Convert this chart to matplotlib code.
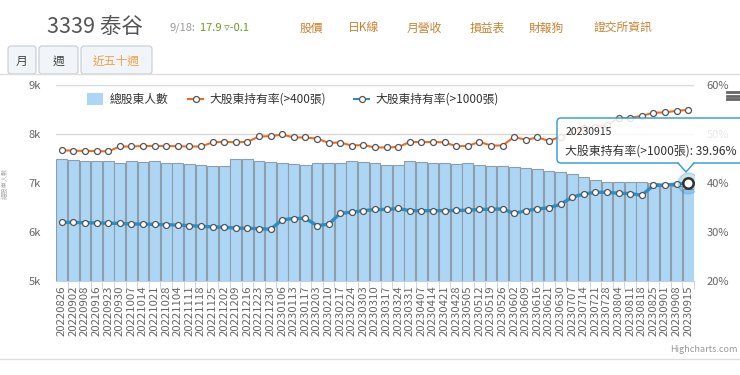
import matplotlib
matplotlib.use("Agg")
import matplotlib.pyplot as plt
from matplotlib.patches import FancyBboxPatch, Rectangle, Polygon
from matplotlib.lines import Line2D
from matplotlib.transforms import IdentityTransform

plt.rcParams['font.family'] = ['Noto Sans CJK TC', 'DejaVu Sans']

# ---- data ----
dates = ['20220826', '20220902', '20220908', '20220916', '20220923', '20220930',
         '20221007', '20221014', '20221021', '20221028', '20221104', '20221111',
         '20221118', '20221125', '20221202', '20221209', '20221216', '20221223',
         '20221230', '20230106', '20230113', '20230117', '20230203', '20230210',
         '20230217', '20230224', '20230303', '20230310', '20230317', '20230324',
         '20230331', '20230407', '20230414', '20230421', '20230428', '20230505',
         '20230512', '20230519', '20230526', '20230602', '20230609', '20230616',
         '20230621', '20230630', '20230707', '20230714', '20230721', '20230728',
         '20230804', '20230811', '20230818', '20230825', '20230901', '20230908',
         '20230915']

holders = [7484, 7470, 7450, 7442, 7442, 7408, 7442, 7429, 7442, 7408,
           7400, 7388, 7367, 7347, 7340, 7484, 7484, 7442, 7429, 7408,
           7388, 7367, 7408, 7408, 7408, 7449, 7435, 7401, 7374, 7367,
           7449, 7422, 7401, 7401, 7388, 7401, 7367, 7347, 7355, 7333,
           7299, 7285, 7245, 7218, 7177, 7129, 7061, 7027, 7027, 7014,
           7014, 6993, 6959, 6939, 6871]

pct_400 = [46.67, 46.6, 46.55, 46.5, 46.45, 47.45, 47.45, 47.55, 47.55, 47.55,
           47.5, 47.45, 47.45, 48.3, 48.4, 48.3, 48.4, 49.5, 49.55, 49.9,
           49.3, 49.3, 49.05, 48.2, 48.25, 47.65, 47.75, 47.25, 47.25, 47.35,
           48.35, 48.35, 48.35, 48.3, 47.5, 47.55, 48.4, 47.65, 47.65, 49.4,
           48.8, 49.3, 48.6, 49.45, 50.6, 51.2, 51.5, 51.8, 53.2, 53.3,
           53.7, 54.35, 54.4, 54.75, 54.9]

pct_1000 = [32.0, 31.95, 31.9, 31.85, 31.8, 31.75, 31.65, 31.6, 31.55, 31.5,
            31.4, 31.3, 31.15, 31.05, 30.95, 30.8, 30.75, 30.7, 30.55, 32.5,
            32.75, 32.8, 31.3, 31.6, 33.8, 34.05, 34.35, 34.6, 34.6, 34.8,
            34.35, 34.35, 34.35, 34.35, 34.4, 34.45, 34.6, 34.65, 34.7, 33.8,
            34.35, 34.7, 34.95, 35.65, 37.1, 37.75, 38.1, 38.1, 37.9, 37.85,
            37.5, 39.5, 39.55, 39.8, 39.96]

left_ticks = [5000, 6000, 7000, 8000, 9000]
left_labels = ['5k', '6k', '7k', '8k', '9k']
right_ticks = [20, 30, 40, 50, 60]
right_labels = ['20%', '30%', '40%', '50%', '60%']

W, H = 740, 375


def fx(x):
    return x / W


def fy(y):
    return 1 - y / H


fig = plt.figure(figsize=(7.4, 3.75), dpi=100)

# ---- header ----
fig.text(fx(47), fy(27), '3339 泰谷', fontsize=15.5, color='#555555', va='center')
fig.text(fx(170), fy(28), '9/18:', fontsize=8, color='#999999', va='center')
fig.text(fx(200), fy(28), '17.9 ▿-0.1', fontsize=8, color='#6c9a22', va='center')
links = [('股價', 300), ('日K線', 348), ('月營收', 407), ('損益表', 470),
         ('財報狗', 529), ('證交所資訊', 593)]
for s, x in links:
    fig.text(fx(x), fy(28), s, fontsize=8.5, color='#c8822f', va='center')

# tabs
tabs = [('月', 8, 36, '#444444'), ('週', 39, 78, '#444444'), ('近五十週', 81, 152, '#f0a048')]
for s, x0, x1, c in tabs:
    box = FancyBboxPatch((x0, H - 74), x1 - x0, 28,
                         boxstyle='round,pad=0,rounding_size=3',
                         transform=IdentityTransform(), facecolor='#f1f4f8',
                         edgecolor='#c5ccd4', linewidth=0.8, zorder=1)
    fig.add_artist(box)
    fig.text(fx((x0 + x1) / 2), fy(61), s, fontsize=8.5, color=c,
             ha='center', va='center')
fig.add_artist(Line2D([0, 1], [fy(74), fy(74)], color='#dddddd', lw=1))
fig.add_artist(Line2D([0, 1], [fy(359), fy(359)], color='#dddddd', lw=1))

# ---- chart ----
ax = fig.add_axes([fx(56), fy(281), (694 - 56) / W, (281 - 85) / H])
ax2 = ax.twinx()
x = list(range(len(dates)))

ax.bar(x, holders, width=0.94, color='#add6f5', edgecolor='#8e9daa',
       linewidth=0.8, zorder=2)
ax.set_xlim(-0.5, len(dates) - 0.5)
ax.set_ylim(5000, 9000)
ax.set_yticks(left_ticks)
ax.set_yticklabels(left_labels)
ax.yaxis.grid(True, color='#d8d8d8', lw=1, zorder=0)
ax.set_axisbelow(True)
ax.tick_params(axis='y', length=0, pad=11, labelsize=8, labelcolor='#666666')
ax.set_xticks(x)
ax.set_xticklabels(dates, rotation=90, fontsize=8.2, color='#666666')
ax.tick_params(axis='x', length=0, pad=3)
ax.set_xticks([i + 0.5 for i in x], minor=True)
ax.tick_params(axis='x', which='minor', length=6, color='#c0d0e0')
for sp in ['top', 'left', 'right']:
    ax.spines[sp].set_visible(False)
ax.spines['bottom'].set_color('#c0d0e0')
ax.set_ylabel('總股東人數', fontsize=4.5, color='#aaaaaa', labelpad=14)

ax2.plot(x, pct_400, color='#f06b1e', lw=1.5, marker='o', ms=4.3,
         mfc='white', mec='#555555', mew=0.9, zorder=3)
ax2.plot(x, pct_1000, color='#2a8fc4', lw=2.4, marker='o', ms=4.3,
         mfc='white', mec='#555555', mew=0.9, zorder=4)
ax2.plot(x[-1], pct_1000[-1], 'o', ms=15, color='#2a8fc4', alpha=0.25, zorder=5)
ax2.plot(x[-1], pct_1000[-1], 'o', ms=7.5, mfc='white', mec='#333333',
         mew=1.8, zorder=6)
ax2.set_ylim(20, 60)
ax2.set_yticks(right_ticks)
ax2.set_yticklabels(right_labels)
ax2.tick_params(axis='y', length=0, pad=9, labelsize=8, labelcolor='#666666')
for sp in ax2.spines.values():
    sp.set_visible(False)

# ---- legend ----
fig.add_artist(Rectangle((fx(87), fy(105)), 16 / W, 12 / H,
                         facecolor='#add6f5', edgecolor='none'))
fig.text(fx(110), fy(99), '總股東人數', fontsize=8.5, color='#333333', va='center')
fig.add_artist(Line2D([fx(188), fx(203)], [fy(99), fy(99)], color='#f06b1e',
                      lw=1.5))
fig.add_artist(Line2D([fx(195.5)], [fy(99)], marker='o', ms=4.3, mfc='white',
                      mec='#555555', mew=0.9))
fig.text(fx(209), fy(99), '大股東持有率(>400張)', fontsize=8.5, color='#333333',
         va='center')
fig.add_artist(Line2D([fx(354), fx(369)], [fy(99), fy(99)], color='#2a8fc4',
                      lw=1.5))
fig.add_artist(Line2D([fx(361.5)], [fy(99)], marker='o', ms=4.3, mfc='white',
                      mec='#555555', mew=0.9))
fig.text(fx(375), fy(99), '大股東持有率(>1000張)', fontsize=8.5, color='#333333',
         va='center')

# menu icon
for yy in [92, 95.5, 99]:
    fig.add_artist(Line2D([fx(727), fx(740)], [fy(yy), fy(yy)],
                          color='#666666', lw=2))

# ---- tooltip ----
tip = FancyBboxPatch((557, H - 163), 200, 45, boxstyle='round,pad=0,rounding_size=4',
                     transform=IdentityTransform(), facecolor=(1, 1, 1, 0.85),
                     edgecolor='#2a9ad0', linewidth=1, zorder=10)
fig.add_artist(tip)
fig.add_artist(Polygon([(678, H - 162), (686, H - 172), (694, H - 162)],
                       closed=True, transform=IdentityTransform(),
                       facecolor='white', edgecolor='none', zorder=11))
fig.add_artist(Line2D([678, 686, 694], [H - 163, H - 172, H - 163],
                      transform=IdentityTransform(), color='#2a9ad0', lw=1,
                      zorder=12))
fig.text(fx(566), fy(132), '20230915', fontsize=7.5, color='#333333',
         va='center', zorder=13)
fig.text(fx(565), fy(151), '大股東持有率(>1000張): 39.96%', fontsize=8.6,
         color='#333333', va='center', zorder=13)

fig.text(fx(738), fy(349), 'Highcharts.com', fontsize=6.5, color='#999999',
         ha='right', va='center')

fig.savefig('out.png', dpi=100)
